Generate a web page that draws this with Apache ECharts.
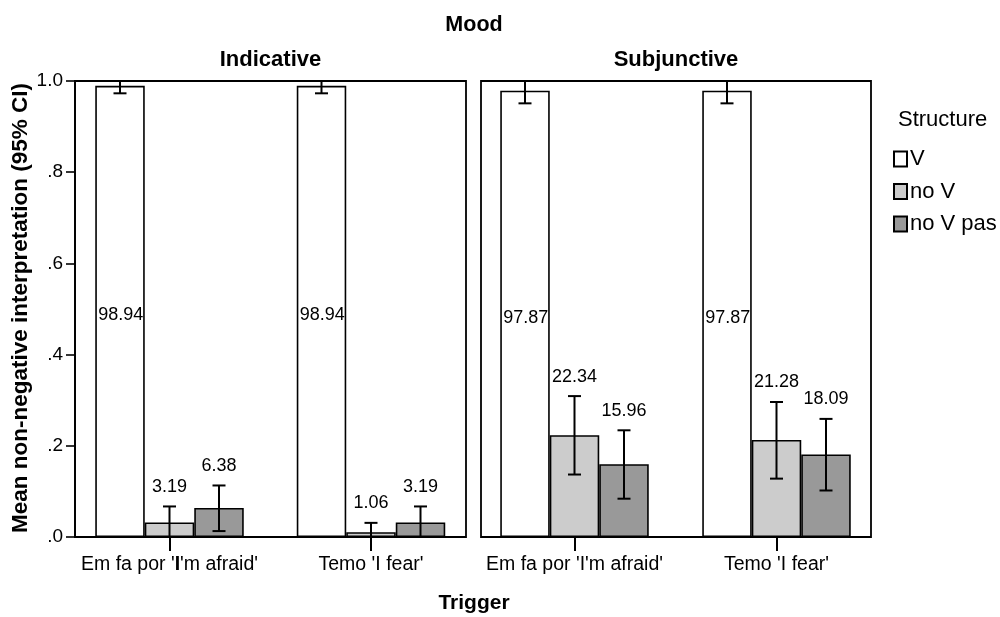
<!DOCTYPE html>
<html>
<head>
<meta charset="utf-8">
<script src="https://cdn.jsdelivr.net/npm/echarts@6/dist/echarts.min.js"></script>
<style>
  html, body { margin: 0; padding: 0; background: #fff; }
  #chart { width: 1000px; height: 617px; }
</style>
</head>
<body>
<div id="chart"></div>
<script>
// Trigger categories and structure groups
const triggers = ["Em fa por 'I'm afraid'", "Temo 'I fear'"];
const structures = ['V', 'no V', 'no V pas'];
const moods = ['Indicative', 'Subjunctive'];
const yTickLabels = ['.0', '.2', '.4', '.6', '.8', '1.0'];

// Mean non-negative interpretation (%), one value per trigger
const indV = [98.94, 98.94];
const indNoV = [3.19, 1.06];
const indNoVPas = [6.38, 3.19];
const subV = [97.87, 97.87];
const subNoV = [22.34, 21.28];
const subNoVPas = [15.96, 18.09];

// 95% confidence intervals (%), [low, high] per trigger
const indVCi = [[97.3, 100], [97.3, 100]];
const indNoVCi = [[0, 6.7], [0, 3.1]];
const indNoVPasCi = [[1.3, 11.3], [0, 6.7]];
const subVCi = [[95.1, 100], [95.1, 100]];
const subNoVCi = [[13.7, 30.9], [12.8, 29.6]];
const subNoVPasCi = [[8.4, 23.4], [10.2, 25.9]];

const colors = ['#ffffff', '#cccccc', '#999999'];
const FONT = 'Liberation Sans, Arial, Helvetica, sans-serif';
const BAR_W = 49.5;

const panels = [
  { means: [indV, indNoV, indNoVPas], cis: [indVCi, indNoVCi, indNoVPasCi] },
  { means: [subV, subNoV, subNoVPas], cis: [subVCi, subNoVCi, subNoVPasCi] }
];

// frame grids (0, 2) carry the border and y scale; data grids (1, 3) place the bars
const grids = [
  { left: 75, top: 81, width: 391, height: 456, show: true, borderColor: '#000', borderWidth: 1.8, backgroundColor: '#fff' },
  { left: 68.75, top: 81, width: 403, height: 456 },
  { left: 481, top: 81, width: 390, height: 456, show: true, borderColor: '#000', borderWidth: 1.8, backgroundColor: '#fff' },
  { left: 473.5, top: 81, width: 404, height: 456 }
];

const xAxes = [];
const yAxes = [];
for (let p = 0; p < 2; p++) {
  xAxes.push({ type: 'category', gridIndex: p * 2, data: triggers, show: false });
  xAxes.push({
    type: 'category', gridIndex: p * 2 + 1, data: triggers,
    axisLine: { show: false },
    axisTick: { show: true, alignWithLabel: true, interval: 0, length: 14, lineStyle: { color: '#000', width: 2 } },
    axisLabel: {
      interval: 0, hideOverlap: false,
      margin: 18, color: '#000', fontFamily: FONT, fontSize: 19.5,
      formatter: function (v) {
        return (p === 0 && v.indexOf("'I'm") >= 0) ? v.replace("'I'm", "'{b|I}'m") : v;
      },
      rich: { b: { fontWeight: 'bold', fontFamily: FONT, fontSize: 19.5, color: '#000' } }
    }
  });
  yAxes.push({
    type: 'value', gridIndex: p * 2, min: 0, max: 100, interval: 20,
    show: p === 0,
    splitLine: { show: false },
    axisLine: { show: true, lineStyle: { color: '#000', width: 1.8 } },
    axisTick: { show: true, length: 9, lineStyle: { color: '#000', width: 1.6 } },
    axisLabel: {
      margin: 12, color: '#000', fontFamily: FONT, fontSize: 19,
      formatter: function (v) { return yTickLabels[Math.round(v / 20)]; }
    }
  });
  yAxes.push({ type: 'value', gridIndex: p * 2 + 1, min: 0, max: 100, show: false });
}

const series = [];
panels.forEach(function (panel, p) {
  const ax = p * 2 + 1;
  structures.forEach(function (name, s) {
    series.push({
      type: 'bar', name: name, xAxisIndex: ax, yAxisIndex: ax,
      data: panel.means[s], barWidth: BAR_W, barGap: '0%',
      itemStyle: { color: colors[s], borderColor: '#000', borderWidth: 1.6 },
      label: s === 0 ? {
        show: true, position: 'insideLeft', distance: 3, offset: [0, 4],
        color: '#000', fontFamily: FONT, fontSize: 18,
        formatter: function (d) { return d.value.toFixed(2); }
      } : { show: false },
      emphasis: { disabled: true }
    });
  });
  // error bars with value labels for the non-V bars
  const errData = [];
  structures.forEach(function (name, s) {
    triggers.forEach(function (t, i) {
      errData.push([i, s, panel.cis[s][i][0], panel.cis[s][i][1], panel.means[s][i]]);
    });
  });
  series.push({
    type: 'custom', xAxisIndex: ax, yAxisIndex: ax, z: 5,
    data: errData,
    encode: { x: 0, y: [2, 3] },
    renderItem: function (params, api) {
      const cat = api.value(0);
      const s = api.value(1);
      const cx = api.coord([cat, 0])[0] + (s - 1) * BAR_W;
      const yLo = api.coord([cat, api.value(2)])[1];
      const yHi = api.coord([cat, api.value(3)])[1];
      const cap = 6.5;
      const st = { stroke: '#000', lineWidth: 2 };
      const children = [
        { type: 'line', shape: { x1: cx, y1: yLo, x2: cx, y2: yHi }, style: st },
        { type: 'line', shape: { x1: cx - cap, y1: yHi, x2: cx + cap, y2: yHi }, style: st },
        { type: 'line', shape: { x1: cx - cap, y1: yLo, x2: cx + cap, y2: yLo }, style: st }
      ];
      if (s > 0) {
        children.push({
          type: 'text',
          style: {
            x: cx, y: yHi - 19.5, text: api.value(4).toFixed(2),
            align: 'center', verticalAlign: 'middle',
            fill: '#000', font: '18px ' + FONT
          }
        });
      }
      return { type: 'group', children: children };
    }
  });
});

const chart = echarts.init(document.getElementById('chart'), null, { renderer: 'canvas' });
chart.setOption({
  animation: false,
  backgroundColor: '#fff',
  grid: grids,
  xAxis: xAxes,
  yAxis: yAxes,
  series: series,
  legend: {
    data: structures,
    orient: 'vertical', left: 893, top: 148,
    padding: 0, itemGap: 10.5, itemWidth: 13, itemHeight: 15,
    icon: 'rect',
    textStyle: { color: '#000', fontFamily: FONT, fontSize: 22, padding: [0, 0, 0, -2] },
    selectedMode: false
  },
  graphic: [
    { type: 'text', style: { text: 'Mood', x: 474, y: 25, align: 'center', verticalAlign: 'middle', font: 'bold 21.5px ' + FONT, fill: '#000' } },
    { type: 'text', style: { text: moods[0], x: 270.5, y: 59.5, align: 'center', verticalAlign: 'middle', font: 'bold 22px ' + FONT, fill: '#000' } },
    { type: 'text', style: { text: moods[1], x: 676, y: 59.5, align: 'center', verticalAlign: 'middle', font: 'bold 22px ' + FONT, fill: '#000' } },
    { type: 'text', style: { text: 'Trigger', x: 474, y: 603, align: 'center', verticalAlign: 'middle', font: 'bold 21px ' + FONT, fill: '#000' } },
    { type: 'text', style: { text: 'Structure', x: 898, y: 120, align: 'left', verticalAlign: 'middle', font: '22px ' + FONT, fill: '#000' } },
    {
      type: 'text', x: 21, y: 308, rotation: Math.PI / 2,
      style: { text: 'Mean non-negative interpretation (95% CI)', x: 0, y: 0, align: 'center', verticalAlign: 'middle', font: 'bold 22.5px ' + FONT, fill: '#000' }
    }
  ]
});
</script>
</body>
</html>
